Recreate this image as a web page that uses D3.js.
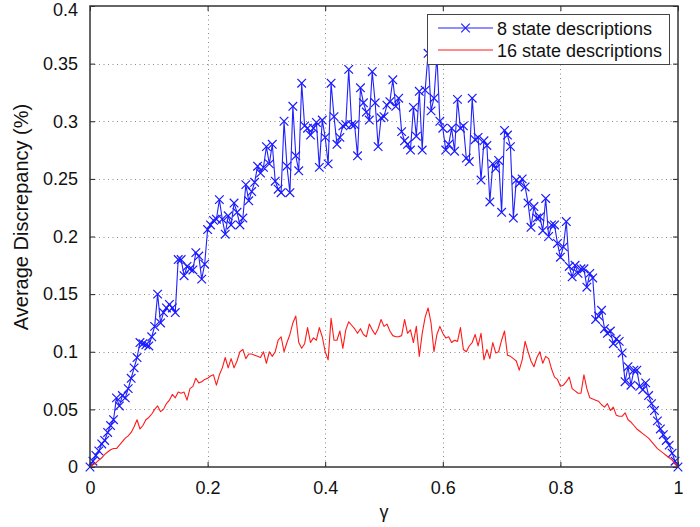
<!DOCTYPE html>
<html>
<head>
<meta charset="utf-8">
<script src="https://cdn.jsdelivr.net/npm/d3@7"></script>
<style>
  html, body { margin: 0; padding: 0; background: #fff; }
  svg { display: block; font-family: "Liberation Sans", Arial, Helvetica, sans-serif; }
</style>
</head>
<body>
<svg id="chart" width="700" height="527"></svg>
<script>
// ---- data ----
const gammaStep = 0.005;
const xTicks = [0, 0.2, 0.4, 0.6, 0.8, 1];
const xTickLabels = ["0", "0.2", "0.4", "0.6", "0.8", "1"];
const yTicks = [0, 0.05, 0.1, 0.15, 0.2, 0.25, 0.3, 0.35, 0.4];
const yTickLabels = ["0", "0.05", "0.1", "0.15", "0.2", "0.25", "0.3", "0.35", "0.4"];
const seriesNames = ["8 state descriptions", "16 state descriptions"];

const blue8 = [
  0, 0.005, 0.01, 0.014, 0.02, 0.023, 0.03, 0.036, 0.041, 0.06,
  0.053, 0.062, 0.06, 0.068, 0.077, 0.086, 0.095, 0.108, 0.107, 0.106,
  0.105, 0.113, 0.122, 0.15, 0.125, 0.134, 0.138, 0.141, 0.138, 0.134,
  0.18, 0.18, 0.166, 0.174, 0.172, 0.171, 0.186, 0.183, 0.163, 0.176,
  0.206, 0.21, 0.214, 0.215, 0.232, 0.215, 0.202, 0.218, 0.21, 0.229,
  0.221, 0.21, 0.216, 0.245, 0.231, 0.239, 0.247, 0.261, 0.255, 0.26,
  0.278, 0.263, 0.28, 0.248, 0.241, 0.238, 0.3, 0.261, 0.238, 0.313,
  0.27, 0.257, 0.333, 0.296, 0.294, 0.288, 0.294, 0.299, 0.26, 0.301,
  0.286, 0.263, 0.333, 0.304, 0.28, 0.286, 0.296, 0.297, 0.345, 0.297,
  0.297, 0.27, 0.329, 0.316, 0.308, 0.301, 0.343, 0.316, 0.278, 0.303,
  0.304, 0.314, 0.317, 0.336, 0.313, 0.32, 0.291, 0.283, 0.28, 0.275,
  0.312, 0.287, 0.326, 0.275, 0.327, 0.359, 0.309, 0.32, 0.357, 0.3,
  0.294, 0.275, 0.28, 0.294, 0.274, 0.319, 0.294, 0.296, 0.268, 0.265,
  0.32, 0.284, 0.286, 0.249, 0.283, 0.279, 0.23, 0.263, 0.259, 0.266,
  0.221, 0.292, 0.288, 0.278, 0.216, 0.249, 0.246, 0.25, 0.243, 0.229,
  0.208, 0.226, 0.216, 0.217, 0.205, 0.233, 0.2, 0.21, 0.21, 0.194,
  0.182, 0.191, 0.213, 0.174, 0.165, 0.175, 0.168, 0.172, 0.172, 0.156,
  0.168, 0.164, 0.128, 0.131, 0.136, 0.12, 0.116, 0.118, 0.107, 0.111,
  0.109, 0.099, 0.074, 0.087, 0.071, 0.084, 0.084, 0.07, 0.067, 0.073,
  0.062, 0.055, 0.049, 0.04, 0.033, 0.028, 0.023, 0.019, 0.012, 0.005,
  0
];

const red16 = [
  0, 0.002, 0.0035, 0.006, 0.008, 0.011, 0.013, 0.015, 0.016, 0.016,
  0.019, 0.022, 0.025, 0.027, 0.03, 0.035, 0.041, 0.033, 0.036, 0.041,
  0.043, 0.046, 0.05, 0.053, 0.048, 0.05, 0.055, 0.058, 0.063, 0.06,
  0.065, 0.064, 0.065, 0.058, 0.068, 0.07, 0.077, 0.073, 0.074, 0.076,
  0.077, 0.079, 0.08, 0.071, 0.08, 0.086, 0.095, 0.086, 0.094, 0.086,
  0.092, 0.1, 0.102, 0.094, 0.098, 0.098, 0.097, 0.096, 0.095, 0.1,
  0.09, 0.1, 0.096, 0.1, 0.11, 0.113, 0.1, 0.108, 0.115, 0.125,
  0.131, 0.108, 0.103, 0.107, 0.121, 0.108, 0.112, 0.11, 0.121, 0.113,
  0.1, 0.093, 0.129, 0.11, 0.11, 0.118, 0.103, 0.119, 0.126, 0.123,
  0.12, 0.116, 0.12, 0.115, 0.113, 0.124, 0.119, 0.115, 0.12, 0.128,
  0.122, 0.124, 0.118, 0.114, 0.113, 0.113, 0.114, 0.128, 0.116, 0.119,
  0.108, 0.122, 0.096, 0.116, 0.13, 0.138, 0.125, 0.1, 0.115, 0.122,
  0.116, 0.112, 0.113, 0.108, 0.11, 0.109, 0.121, 0.102, 0.1, 0.105,
  0.108, 0.115, 0.105, 0.116, 0.093, 0.102, 0.094, 0.108, 0.099, 0.1,
  0.11, 0.118, 0.097, 0.096, 0.094, 0.092, 0.084, 0.093, 0.109, 0.1,
  0.092, 0.087, 0.095, 0.1, 0.09, 0.096, 0.094, 0.085, 0.078, 0.076,
  0.07, 0.071, 0.074, 0.078, 0.068, 0.066, 0.064, 0.064, 0.08, 0.068,
  0.06, 0.059, 0.058, 0.057, 0.054, 0.052, 0.055, 0.049, 0.052, 0.045,
  0.044, 0.044, 0.047, 0.041, 0.039, 0.036, 0.033, 0.031, 0.029, 0.027,
  0.025, 0.022, 0.019, 0.016, 0.014, 0.012, 0.01, 0.008, 0.006, 0.003,
  0
];

// ---- layout ----
const svg = d3.select("#chart");
const L = 90, R = 678, T = 6, B = 467;
const x = d3.scaleLinear().domain([0, 1]).range([L, R]);
const y = d3.scaleLinear().domain([0, 0.4]).range([B, T]);
const fontSize = 18;

// grid
const grid = svg.append("g").attr("stroke", "#8a8a8a").attr("stroke-width", 1)
  .attr("stroke-dasharray", "1,3.5");
xTicks.slice(1, -1).forEach(t => {
  grid.append("line").attr("x1", Math.round(x(t)) + 0.5).attr("x2", Math.round(x(t)) + 0.5)
    .attr("y1", T).attr("y2", B);
});
yTicks.slice(1, -1).forEach(t => {
  grid.append("line").attr("y1", Math.round(y(t)) + 0.5).attr("y2", Math.round(y(t)) + 0.5)
    .attr("x1", L).attr("x2", R);
});

// axes (ticks inward on all four sides)
const tickLen = 5;
const axB = svg.append("g").attr("transform", `translate(0,${B})`)
  .call(d3.axisBottom(x).tickValues(xTicks).tickFormat((d, i) => xTickLabels[i]).tickSizeInner(-tickLen).tickSizeOuter(0).tickPadding(14));
const axT = svg.append("g").attr("transform", `translate(0,${T})`)
  .call(d3.axisTop(x).tickValues(xTicks).tickFormat("").tickSizeInner(-tickLen).tickSizeOuter(0));
const axLft = svg.append("g").attr("transform", `translate(${L},0)`)
  .call(d3.axisLeft(y).tickValues(yTicks).tickFormat((d, i) => yTickLabels[i]).tickSizeInner(-tickLen).tickSizeOuter(0).tickPadding(12));
const axRgt = svg.append("g").attr("transform", `translate(${R},0)`)
  .call(d3.axisRight(y).tickValues(yTicks).tickFormat("").tickSizeInner(-tickLen).tickSizeOuter(0));
[axB, axT, axLft, axRgt].forEach(g => {
  g.select(".domain").remove();
  g.selectAll(".tick line").attr("stroke", "#222").attr("stroke-width", 1);
  g.selectAll("text").attr("font-size", fontSize).attr("fill", "#111")
    .attr("font-family", "'Liberation Sans', Arial, sans-serif");
});
// keep the top "0.4" label fully inside the canvas
axLft.selectAll(".tick").filter(d => d === 0.4).select("text").attr("dy", "0.5em");

// data lines
const blueData = blue8.map((v, i) => [i * gammaStep, v]);
const redData = red16.map((v, i) => [i * gammaStep, v]);
const line = d3.line().x(d => x(d[0])).y(d => y(d[1]));

svg.append("path").datum(blueData).attr("d", line)
  .attr("fill", "none").attr("stroke", "#2020ff").attr("stroke-width", 1.1).attr("stroke-linejoin", "round");
const ms = 4.3;
svg.append("g").selectAll("path.mk").data(blueData).join("path")
  .attr("d", d => { const cx = x(d[0]), cy = y(d[1]);
    return `M${cx - ms},${cy - ms}L${cx + ms},${cy + ms}M${cx - ms},${cy + ms}L${cx + ms},${cy - ms}`; })
  .attr("stroke", "#1a1aff").attr("stroke-width", 1.2).attr("fill", "none");

svg.append("path").datum(redData).attr("d", line)
  .attr("fill", "none").attr("stroke", "#ff1a1a").attr("stroke-width", 1.1).attr("stroke-linejoin", "round");

// frame
svg.append("rect").attr("x", L).attr("y", T).attr("width", R - L).attr("height", B - T)
  .attr("fill", "none").attr("stroke", "#333").attr("stroke-width", 1.5);

// axis labels
svg.append("text").attr("x", x(0.5)).attr("y", 518).attr("text-anchor", "middle")
  .attr("font-size", fontSize).attr("fill", "#111").text("γ");
svg.append("text").attr("transform", `translate(28,217) rotate(-90)`)
  .attr("text-anchor", "middle").attr("font-size", 20).attr("fill", "#111")
  .text("Average Discrepancy (%)");

// legend
const lg = svg.append("g");
lg.append("rect").attr("x", 427.5).attr("y", 14.5).attr("width", 242).attr("height", 50)
  .attr("fill", "#fff").attr("stroke", "#444").attr("stroke-width", 1);
const legRows = [
  { name: seriesNames[0], color: "#2020ff", marker: true, yy: 28 },
  { name: seriesNames[1], color: "#ff1a1a", marker: false, yy: 50 }
];
legRows.forEach(r => {
  lg.append("line").attr("x1", 438).attr("x2", 493).attr("y1", r.yy).attr("y2", r.yy)
    .attr("stroke", r.color).attr("stroke-width", 1.1);
  if (r.marker) {
    const cx = 465.5, cy = r.yy;
    lg.append("path").attr("d", `M${cx - ms},${cy - ms}L${cx + ms},${cy + ms}M${cx - ms},${cy + ms}L${cx + ms},${cy - ms}`)
      .attr("stroke", r.color).attr("stroke-width", 1.2);
  }
  lg.append("text").attr("x", 497).attr("y", r.yy + 6.5).attr("font-size", fontSize)
    .attr("fill", "#111").text(r.name);
});
</script>
</body>
</html>
